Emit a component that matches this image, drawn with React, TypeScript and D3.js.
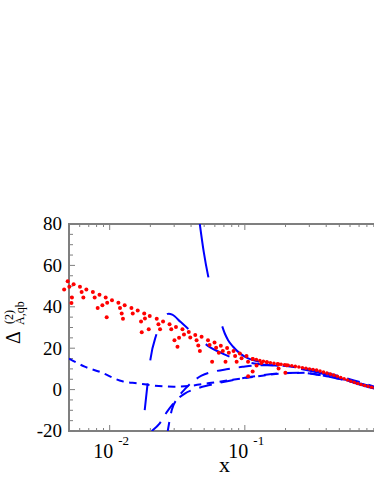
import * as d3 from "d3";

const W = 374;
const H = 484;
const LEFT = 69;
const RIGHT = 380;
const TOP = 224;
const BOTTOM = 431;

const X_DOMAIN: [number, number] = [0.005, 1];
const Y_DOMAIN: [number, number] = [-20, 80];
const Y_TICKS = [-20, 0, 20, 40, 60, 80];
const X_LABELS = [
  { v: 0.01, base: "10", exp: "-2" },
  { v: 0.1, base: "10", exp: "-1" },
];

type P = [number, number];

// red: scattered dots of the exact result (small x)
const exactDots: P[] = [
  [0.004603, 48.4], [0.004887, 52.3], [0.005029, 49.7], [0.00541, 50.9], [0.005256, 44.5],
  [0.005212, 41.8], [0.006026, 49.7], [0.0062, 47.1], [0.00672, 48.4], [0.006386, 44.5],
  [0.007508, 47.1], [0.007742, 44.5], [0.008403, 45.8], [0.00815, 39.4], [0.008829, 40.7],
  [0.009341, 44.5], [0.009583, 42.0], [0.0104, 43.2], [0.009502, 34.9], [0.0116, 41.9],
  [0.01192, 39.4], [0.01291, 40.7], [0.01227, 36.8], [0.01254, 34.2], [0.01448, 39.4],
  [0.01481, 36.8], [0.01612, 38.2], [0.01706, 32.9], [0.01726, 27.7], [0.01801, 36.8],
  [0.01823, 34.3], [0.01945, 29.1], [0.01978, 35.6], [0.02229, 34.2], [0.02295, 31.6],
  [0.02358, 29.1], [0.02482, 32.9], [0.02773, 31.6], [0.02855, 29.1], [0.03093, 30.3],
  [0.03015, 23.8], [0.03261, 25.1], [0.03174, 20.7], [0.03455, 29.1], [0.03545, 26.6],
  [0.03847, 27.8], [0.03947, 25.2], [0.04298, 26.4], [0.04395, 23.9], [0.04524, 21.3],
  [0.04649, 18.7], [0.04786, 25.5], [0.05338, 23.9], [0.05486, 21.6], [0.05965, 22.7],
  [0.05726, 13.4], [0.06129, 20.2], [0.0664, 21.2], [0.06418, 17.8], [0.06871, 18.7],
  [0.07393, 20.1], [0.07194, 13.5], [0.0761, 17.8], [0.08248, 18.7], [0.08475, 16.2],
  [0.09183, 17.5], [0.08696, 13.4], [0.09454, 15.1], [0.1029, 16.2], [0.1056, 13.5],
  [0.1142, 14.8], [0.1058, 6.5], [0.1142, 8.8], [0.1221, 11.7], [0.1325, 12.9],
  [0.1455, 13.2], [0.1771, 12.2], [0.1777, 10.2], [0.1995, 8.1], [0.2037, 11.8],
];

// red: large-x part where the dotted curves run together
const exactTail: P[] = [
  [0.1146, 14.9], [0.1531, 13.0], [0.2279, 11.4], [0.2864, 10.2], [0.3398, 9.4],
  [0.3783, 8.5], [0.4802, 6.5], [0.5995, 4.2], [0.7482, 2.2], [0.8874, 1.0], [1.0, 0.2],
];

// blue, very long dashes
const approxA: P[] = [
  [0.04642, 80], [0.04969, 66.4], [0.05347, 55.0], [0.05995, 42.8], [0.0679, 30.7],
  [0.07109, 27.1], [0.0752, 23.9], [0.08191, 20.7], [0.09183, 17.5], [0.1058, 15.1],
  [0.1291, 13.4], [0.1816, 11.8], [0.255, 10.4], [0.3783, 7.9], [0.5505, 4.8],
  [0.7482, 2.1], [1.0, 0.0],
];

// blue, long dashes
const approxB: P[] = [
  [0.0175, -20], [0.01816, -9.9], [0.01902, 2.2], [0.02002, 14.6], [0.02218, 26.7],
  [0.02387, 32.6], [0.02555, 35.5], [0.02735, 36.7], [0.02904, 36.2], [0.03357, 32.6],
  [0.03961, 28.4], [0.04642, 24.4], [0.05505, 20.5], [0.06754, 17.6], [0.08191, 15.2],
  [0.1, 13.5], [0.1291, 12.3], [0.1816, 11.4], [0.255, 10.1], [0.3783, 7.7],
  [0.5505, 4.7], [0.7482, 2.0], [1.0, -0.1],
];

// blue, medium dashes (two curves)
const approxC: P[] = [
  [0.02047, -20], [0.02346, -16.3], [0.02644, -10.9], [0.0303, -5.9], [0.03594, -1.9],
  [0.04263, 0.2], [0.05505, 2.2], [0.07742, 4.3], [0.1146, 6.3], [0.1668, 7.7],
  [0.255, 8.2], [0.3594, 7.0], [0.5054, 5.1], [0.7109, 2.9], [1.0, 0.5],
];
const approxD: P[] = [
  [0.02689, -20], [0.02879, -9.9], [0.0319, -4.1], [0.03656, 0.7], [0.04119, 3.9],
  [0.04778, 6.7], [0.05995, 8.8], [0.0752, 9.9], [0.09616, 11.0], [0.1291, 11.8],
  [0.1816, 11.6], [0.255, 10.5], [0.3594, 8.8], [0.5054, 6.3], [0.7109, 3.6], [1.0, 0.5],
];

// blue, short dashes
const approxE: P[] = [
  [0.005, 15.0], [0.006531, 11.1], [0.008433, 8.6], [0.01242, 4.0], [0.01604, 3.0],
  [0.02082, 2.0], [0.02979, 1.4], [0.03914, 1.8], [0.05667, 3.3], [0.09183, 5.2],
  [0.1448, 7.0], [0.2154, 8.0], [0.2783, 8.1], [0.3594, 7.1], [0.5054, 5.2],
  [0.7109, 3.0], [1.0, 0.6],
];

const FONT = "'Liberation Serif', 'Times New Roman', serif";
const AXIS = "#7f7f7f";
const BLUE = "#0000ff";
const RED = "#ff0000";

export default function App() {
  const x = d3.scaleLog().domain(X_DOMAIN).range([LEFT, RIGHT]);
  const y = d3.scaleLinear().domain(Y_DOMAIN).range([BOTTOM, TOP]);
  const line = d3
    .line<P>()
    .x((d) => x(d[0]))
    .y((d) => y(d[1]))
    .curve(d3.curveMonotoneX);

  const isDecade = (v: number) => Math.abs(Math.log10(v) - Math.round(Math.log10(v))) < 1e-6;
  const xTicks = x.ticks();
  const yTicks = d3.range(-20, 81, 5);

  const blue = [
    { d: approxA, dash: "54 51", off: 0 },
    { d: approxB, dash: "27 23", off: 29 },
    { d: approxC, dash: "13 9", off: 0 },
    { d: approxD, dash: "13 9", off: 4 },
    { d: approxE, dash: "7.5 5.5", off: 0 },
  ];

  return (
    <svg
      width={W}
      height={H}
      style={{ position: "absolute", left: 0, top: 0, fontFamily: FONT }}
    >
      <defs>
        <clipPath id="plot">
          <rect x={LEFT} y={TOP} width={RIGHT - LEFT} height={BOTTOM - TOP} />
        </clipPath>
      </defs>

      {/* frame */}
      <rect x={LEFT} y={TOP} width={RIGHT - LEFT} height={BOTTOM - TOP} fill="none" stroke={AXIS} strokeWidth={2} />

      {/* x ticks, bottom and top, pointing inward */}
      {xTicks.map((t, i) => {
        const len = isDecade(t) ? 6 : 3;
        const px = x(t);
        return (
          <g key={i} stroke={AXIS} strokeWidth={1}>
            <line x1={px} x2={px} y1={BOTTOM} y2={BOTTOM - len} />
            <line x1={px} x2={px} y1={TOP} y2={TOP + len} />
          </g>
        );
      })}
      {/* y ticks */}
      {yTicks.map((t) => {
        const len = t % 20 === 0 ? 6 : 4;
        return <line key={t} x1={LEFT} x2={LEFT + len} y1={y(t)} y2={y(t)} stroke={AXIS} strokeWidth={1} />;
      })}

      {Y_TICKS.map((t) => (
        <text key={t} x={62} y={y(t)} dy="0.34em" textAnchor="end" fontSize={19}>
          {t}
        </text>
      ))}
      {X_LABELS.map((t) => (
        <text key={t.v} x={x(t.v) - 16.5} y={458} fontSize={20}>
          {t.base}
          <tspan dx={5} dy={-13} fontSize={13}>{t.exp}</tspan>
        </text>
      ))}

      <text x={224.5} y={471.5} textAnchor="middle" fontSize={22}>x</text>

      {/* y label, read bottom to top */}
      <text transform="translate(20,344) rotate(-90)" fontSize={20}>
        Δ
        <tspan x={20} dy={-7} fontSize={12}>(2)</tspan>
        <tspan x={19} dy={11} fontSize={12}>A,qb</tspan>
      </text>

      {/* approximations */}
      <g clipPath="url(#plot)" fill="none" stroke={BLUE} strokeWidth={2}>
        {blue.map((b, i) => (
          <path key={i} d={line(b.d) ?? ""} strokeDasharray={b.dash} strokeDashoffset={b.off} />
        ))}
      </g>

      {/* exact result */}
      <path d={line(exactTail) ?? ""} fill="none" stroke={RED} strokeWidth={3.6} strokeLinecap="round" strokeDasharray="0 3.6" />
      {exactDots.map((d, i) => (
        <circle key={i} cx={x(d[0])} cy={y(d[1])} r={2} fill={RED} />
      ))}
    </svg>
  );
}
